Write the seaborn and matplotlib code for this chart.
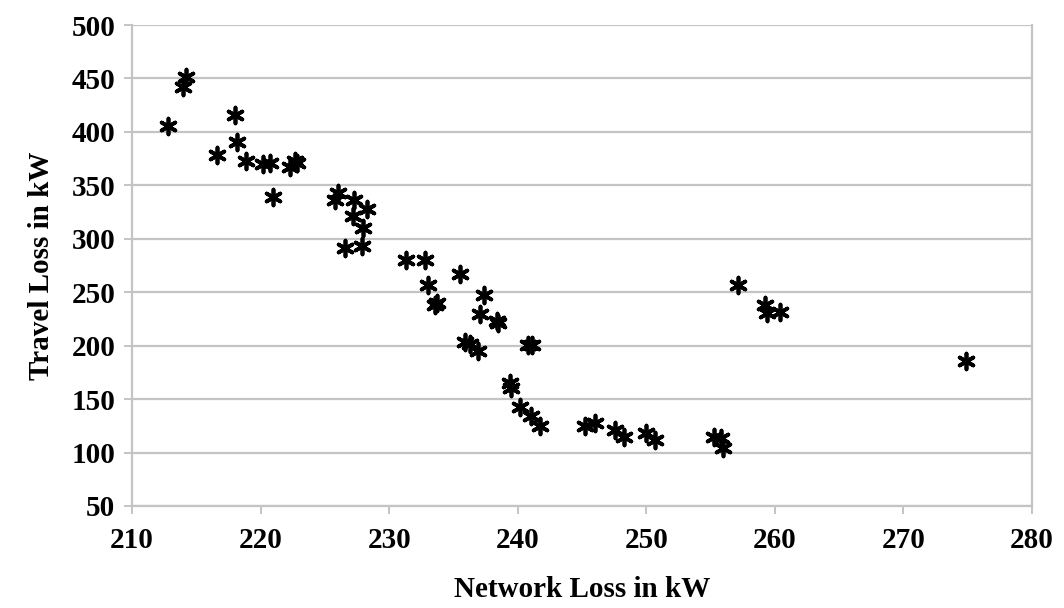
import matplotlib
matplotlib.use("Agg")
import matplotlib.pyplot as plt
import seaborn as sns
import pandas as pd

network_loss = [214.2, 214.0, 212.8, 218.0, 216.6, 218.2, 218.9, 220.2, 220.7, 222.3,
                222.8, 222.7, 221.0, 226.0, 225.8, 227.3, 228.3, 227.2, 228.0, 226.6,
                227.9, 231.3, 232.8, 233.0, 233.7, 233.6, 235.5, 237.4, 237.1, 238.4,
                238.5, 235.9, 236.3, 236.9, 241.1, 240.8, 239.4, 239.5, 240.2, 241.0,
                241.7, 245.2, 246.0, 247.6, 248.3, 250.0, 250.7, 255.3, 255.8, 256.0,
                257.1, 259.2, 259.4, 260.4, 274.9]
travel_loss = [451, 441.6, 405.6, 415.6, 378.8, 390.6, 372.8, 369.7, 371.3, 367.2,
               371.3, 373, 339, 342.8, 336.6, 336, 328.1, 320.9, 310.3, 291.6,
               292.8, 280.3, 280.3, 256.3, 239.7, 238.4, 267.2, 247.8, 229.7, 222.8,
               221, 203.1, 201.6, 195.3, 201, 200.5, 164.7, 160.3, 142.8, 134.4,
               125, 125, 128.1, 121, 114.7, 118.7, 111.6, 114.7, 113.5, 104.7,
               256.3, 238.4, 230.3, 231.2, 185.3]
x_ticks = [210, 220, 230, 240, 250, 260, 270, 280]
y_ticks = [50, 100, 150, 200, 250, 300, 350, 400, 450, 500]

sns.set_theme(style="white")
plt.rcParams['font.family'] = ['Liberation Serif', 'DejaVu Serif']
plt.rcParams['font.weight'] = 'bold'
plt.rcParams['text.color'] = 'black'
plt.rcParams['axes.labelcolor'] = 'black'
plt.rcParams['xtick.labelcolor'] = 'black'
plt.rcParams['ytick.labelcolor'] = 'black'

df = pd.DataFrame({"Network Loss in kW": network_loss, "Travel Loss in kW": travel_loss})

fig = plt.figure(figsize=(10.64, 6.08), dpi=100)
ax = fig.add_axes([132/1064, 1 - 506/608, 900/1064, 481/608])

grid_c = "#c4c4c4"
sns.scatterplot(data=df, x="Network Loss in kW", y="Travel Loss in kW", ax=ax,
                marker=(6, 2, 0), s=130, color="black", edgecolor="black",
                linewidth=2.7, zorder=3)

ax.set_xlim(210, 280)
ax.set_ylim(50, 500)
ax.set_xticks(x_ticks)
ax.set_yticks(y_ticks)
ax.yaxis.grid(True, color=grid_c, linewidth=1.6)
ax.xaxis.grid(False)
for side in ["left", "right", "bottom"]:
    ax.spines[side].set_visible(True)
    ax.spines[side].set_color(grid_c)
    ax.spines[side].set_linewidth(1.6)
ax.spines["top"].set_visible(False)
ax.tick_params(axis="both", which="major", direction="out", length=6, width=1.4,
               color=grid_c, labelsize=21, bottom=True, left=True)
ax.tick_params(axis="x", pad=9)
ax.tick_params(axis="y", pad=6)
for lab in ax.get_xticklabels() + ax.get_yticklabels():
    lab.set_fontweight("bold")
ax.set_xlabel("Network Loss in kW", fontsize=21, fontweight="bold", labelpad=16)
ax.set_ylabel("Travel Loss in kW", fontsize=21, fontweight="bold", labelpad=12)

fig.savefig("out.png", dpi=100)
